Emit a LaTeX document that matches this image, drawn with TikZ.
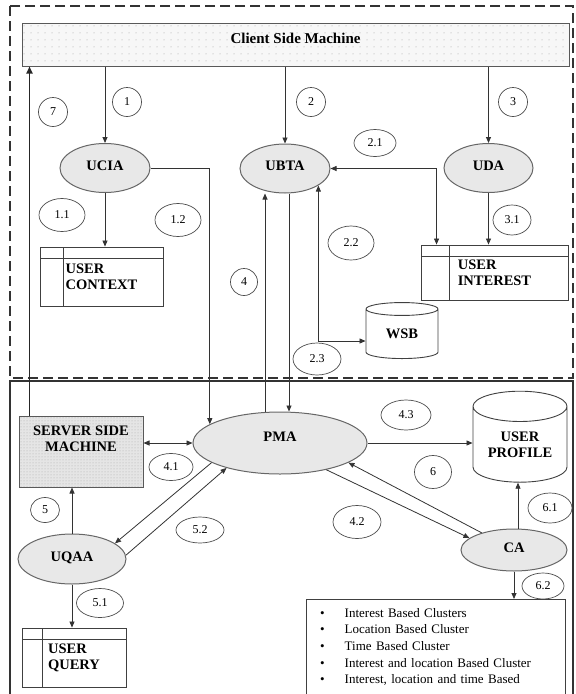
\documentclass[tikz,border=0pt]{standalone}
\usepackage{fontspec}
\setmainfont{Liberation Serif}
\usepackage{tikz}
\usetikzlibrary{shapes.geometric, arrows.meta, patterns}
\pgfdeclarepatternformonly{sparsedots}{\pgfpointorigin}{\pgfqpoint{7pt}{7pt}}{\pgfqpoint{7pt}{7pt}}{%
  \pgfpathcircle{\pgfqpoint{3.5pt}{3.5pt}}{0.6pt}\pgfusepath{fill}}
\newcommand{\lblfont}{\fontsize{14.5}{16}\selectfont\bfseries}
\newcommand{\numfont}{\fontsize{12}{14}\selectfont}
\tikzset{
    agent/.style={ellipse, draw=black!60, fill=gray!18, line width=1pt, font=\lblfont, text height=10.5pt, text depth=6pt},
    num/.style={ellipse, draw=black!70, line width=0.7pt, font=\numfont, inner sep=0pt},
    store/.style={rectangle, draw=black!75, line width=0.9pt, align=left, font=\lblfont,
        path picture={
            \draw[line width=0.9pt, black!75] ([yshift=-11pt]path picture bounding box.north west) -- ([yshift=-11pt]path picture bounding box.north east);
            \draw[line width=0.9pt, black!75] ([xshift=#1]path picture bounding box.north west) -- ([xshift=#1]path picture bounding box.south west);
        }},
    dbcyl/.style={cylinder, shape border rotate=90, aspect=#1, draw=black!75, line width=0.9pt, align=center, font=\lblfont, inner sep=0pt},
    machine/.style={rectangle, draw=black!65, line width=1pt, font=\lblfont},
    listbox/.style={rectangle, anchor=north west, text width=231pt, align=left, inner xsep=14pt, inner ysep=9pt, font=\fontsize{13}{16.6}\selectfont},
    arrow/.style={-{Triangle[length=6pt,width=5pt]}, line width=0.8pt, draw=black!80},
    twoway/.style={{Triangle[length=6pt,width=5pt]}-{Triangle[length=6pt,width=5pt]}, line width=0.8pt, draw=black!80},
    uparrow/.style={-{Triangle[length=7pt,width=6pt]}, line width=1.6pt, draw=black!85},
    frame/.style={line width=1.4pt, draw=black!80}
}
\begin{document}
\begin{tikzpicture}[x=1pt, y=-1pt]
    \useasboundingbox (0,0) rectangle (576,694);
    % frames
    \draw[frame, dash pattern=on 10pt off 5pt] (10,6) rectangle (573,378);
    \draw[frame] (10,720) |- (573,381) -- (573,720);

    % client side
    \node[machine, preaction={fill=gray!6}, pattern=sparsedots, pattern color=gray!75, minimum width=547pt, minimum height=43pt, text height=10.5pt, text depth=13.5pt, font=\fontsize{15}{17}\selectfont\bfseries] (csm) at (295.5,44.5) {Client Side Machine};
    \node[agent, minimum width=90pt, minimum height=49pt] (ucia) at (105,168) {UCIA};
    \node[agent, minimum width=90pt, minimum height=49pt] (ubta) at (285,168.5) {UBTA};
    \node[agent, minimum width=89pt, minimum height=49pt] (uda) at (488.5,168) {UDA};
    \node[store=23pt, minimum width=123pt, minimum height=59pt] (ucx) at (101.5,276.5) {USER\\CONTEXT};
    \node[store=28pt, minimum width=147pt, minimum height=55pt] (uint) at (494.5,272.5) {USER\\INTEREST};
    \node[dbcyl=0.4, minimum width=72pt, minimum height=56pt] (wsb) at (402,334) {WSB};

    % server side
    \node[machine, preaction={fill=gray!20}, pattern=dots, pattern color=gray!65, minimum width=124pt, minimum height=71pt, align=center, text depth=25pt] (ssm) at (81,451.5) {SERVER SIDE\\MACHINE};
    \node[agent, minimum width=174pt, minimum height=62pt, text depth=14pt] (pma) at (280,443) {PMA};
    \node[dbcyl=0.47, minimum width=94pt, minimum height=91pt] (uprof) at (520,444.5) {USER\\PROFILE};
    \node[agent, minimum width=108pt, minimum height=50pt] (uqaa) at (72,559) {UQAA};
    \node[agent, minimum width=106pt, minimum height=42pt] (ca) at (514,550) {CA};
    \node[store=20pt, minimum width=104pt, minimum height=59pt] (uqry) at (74,657.5) {USER\\QUERY};
    \node[listbox] (clus) at (306,599) {\textbullet\hspace{20pt}Interest Based Clusters\\
        \textbullet\hspace{20pt}Location Based Cluster\\
        \textbullet\hspace{20pt}Time Based Cluster\\
        \textbullet\hspace{20pt}Interest and location Based Cluster\\
        \textbullet\hspace{20pt}Interest, location and time Based};
    \draw[line width=0.9pt, black!75] ([yshift=-30pt]clus.south west) -- (clus.north west) -- (clus.north east) -- ([yshift=-30pt]clus.south east);

    % step numbers
    \node[num, minimum width=29pt, minimum height=29pt] (n1) at (127,102) {1};
    \node[num, minimum width=29pt, minimum height=29pt] (n2) at (311,102) {2};
    \node[num, minimum width=29pt, minimum height=29pt] (n3) at (513,102) {3};
    \node[num, minimum width=27pt, minimum height=27pt] (n4) at (244,282) {4};
    \node[num, minimum width=29pt, minimum height=25pt] (n5) at (45,510) {5};
    \node[num, minimum width=37pt, minimum height=33pt] (n6) at (433,472) {6};
    \node[num, minimum width=29pt, minimum height=29pt] (n7) at (53,112) {7};
    \node[num, minimum width=46pt, minimum height=33pt] (n11) at (62,215) {1.1};
    \node[num, minimum width=46pt, minimum height=33pt] (n12) at (178,220) {1.2};
    \node[num, minimum width=42pt, minimum height=27pt] (n21) at (375,143) {2.1};
    \node[num, minimum width=46pt, minimum height=34pt] (n22) at (351,243) {2.2};
    \node[num, minimum width=48pt, minimum height=32pt] (n23) at (317,359) {2.3};
    \node[num, minimum width=38pt, minimum height=30pt] (n31) at (512,220) {3.1};
    \node[num, minimum width=44pt, minimum height=27pt] (n41) at (171,467) {4.1};
    \node[num, minimum width=48pt, minimum height=33pt] (n42) at (357,522) {4.2};
    \node[num, minimum width=50pt, minimum height=30pt] (n43) at (406,415) {4.3};
    \node[num, minimum width=47pt, minimum height=29pt] (n51) at (100,603) {5.1};
    \node[num, minimum width=48pt, minimum height=26pt] (n52) at (200,530) {5.2};
    \node[num, minimum width=44pt, minimum height=30pt] (n61) at (550,508) {6.1};
    \node[num, minimum width=42pt, minimum height=26pt] (n62) at (543,586) {6.2};

    % flows
    \draw[arrow] (csm.south -| ucia.north) -- (ucia.north);
    \draw[arrow] (csm.south -| ubta.north) -- (ubta.north);
    \draw[arrow] (csm.south -| uda.north) -- (uda.north);
    \draw[uparrow] ([xshift=11pt]ssm.north west) -- ([xshift=11pt]ssm.north west |- csm.south);
    \draw[arrow] (ucia.south) -- (ucia.south |- ucx.north);
    \draw[arrow] (ucia.east) -| (pma.165);
    \draw[twoway] (ubta.east) -| ([xshift=16pt]uint.north west);
    \draw[arrow] (uda.south) -- (uda.south |- uint.north);
    \draw[arrow] ([xshift=-15pt]pma.north) -- ([xshift=-15pt]pma.north |- ubta.south);
    \draw[arrow] ([xshift=4pt]ubta.south) -- ([xshift=4pt]ubta.south |- pma.north);
    \draw[twoway] (ubta.333) |- ([yshift=-7pt]wsb.west);
    \draw[twoway] (ssm.east |- pma.west) -- (pma.west);
    \draw[arrow] (pma.east) -- (pma.east -| uprof.west);
    \draw[arrow] (uqaa.north) -- (uqaa.north |- ssm.south);
    \draw[arrow] (uqaa.south) -- (uqaa.south |- uqry.north);
    \draw[arrow] (pma.196) -- (uqaa.20);
    \draw[arrow] (uqaa.4) -- (pma.205);
    \draw[arrow] (ca.152) -- (pma.344);
    \draw[arrow] (pma.330) -- (ca.165);
    \draw[arrow] ([xshift=4pt]ca.north) -- ([xshift=4pt]ca.north |- uprof.south);
    \draw[arrow] (ca.south) -- (ca.south |- clus.north);
\end{tikzpicture}
\end{document}
